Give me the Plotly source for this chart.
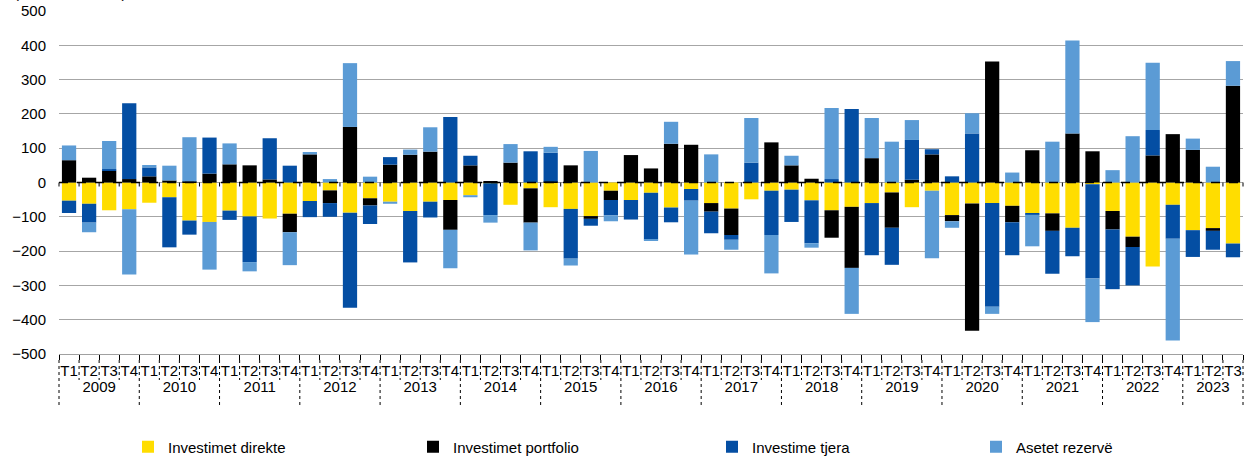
import plotly.graph_objects as go

# ---- data ----
years = [str(y) for y in range(2009, 2024)]
quarters = ["T1", "T2", "T3", "T4"]
quarters_last_year = ["T1", "T2", "T3"]

investimet_direkte = [-53, -62, -81, -78, -59, -43, -111, -115, -82, -99, -105, -91,
                      -54, -23, -88, -46, -56, -83, -56, -51, -37, -2, -65, -17,
                      -72, -77, -98, -24, -51, -30, -73, -19, -60, -76, -49, -24,
                      -21, -52, -81, -71, -60, -29, -72, -24, -95, -61, -60, -68,
                      -89, -90, -132, -5, -83, -158, -245, -65, -139, -133, -178]
investimet_portfolio = [65, 14, 34, 10, 18, 6, 3, 26, 53, 50, 9, -54,
                        82, -37, 162, -21, 52, 81, 90, -87, 50, 3, 58, -100,
                        3, 50, -8, -27, 80, 41, 113, 110, -25, -77, 0, 117,
                        50, 11, -80, -178, 71, -103, 8, 82, -18, -371, 353, -48,
                        94, -51, 143, 91, -54, -30, 79, 141, 95, -8, 282]
investime_tjera = [-36, -55, 5, 221, 26, -146, -41, 105, -27, -133, 120, 49,
                   -47, -40, -277, -54, 22, -150, -46, 191, 28, -93, 0, 91,
                   84, -145, -20, -45, -57, -136, -43, -34, -63, -14, 58, -129,
                   -94, -125, 10, 214, -152, -108, 116, 15, 18, 143, -302, -96,
                   -5, -125, -83, -275, -174, -112, 74, -99, -78, -55, -40]
asetet_rezerve = [43, -28, 82, -190, 7, 43, 129, -139, 61, -27, 0, -96,
                  7, 10, 186, 17, -6, 15, 71, -112, -6, -22, 54, -81,
                  17, -20, 92, -17, 0, -3, 64, -157, 82, -29, 130, -112,
                  28, -13, 207, -134, 117, 119, 58, -197, -19, 59, -21, 29,
                  -92, 119, 271, -127, 36, 135, 196, -297, 33, 46, 72]

series_names = ["Investimet direkte", "Investimet portfolio", "Investime tjera", "Asetet rezervë"]
series_values = [investimet_direkte, investimet_portfolio, investime_tjera, asetet_rezerve]
series_colors = ["#FFDD00", "#000000", "#044EA3", "#5B9BD5"]

# ---- categories ----
year_lvl, q_lvl = [], []
for y in years:
    qs = quarters_last_year if y == years[-1] else quarters
    for q in qs:
        year_lvl.append(y)
        q_lvl.append(q)
N = len(q_lvl)

FONT = "Liberation Sans, Arial, sans-serif"

plot_l, plot_r, W = 59, 13, 1256
plot_t, plot_b, H = 11, 103, 457
plot_w = W - plot_l - plot_r
plot_h = H - plot_t - plot_b

fig = go.Figure()
for i, (name, vals, col) in enumerate(zip(series_names, series_values, series_colors)):
    fig.add_trace(go.Bar(
        x=[year_lvl, q_lvl], y=vals, name=name,
        marker=dict(color=col, line=dict(width=0)),
        legend="legend" if i == 0 else f"legend{i+1}",
    ))

shapes = []
# dashed zero line
shapes.append(dict(type="line", xref="paper", yref="y", x0=0, x1=1, y0=0, y1=0,
                   line=dict(color="black", width=1.3, dash="dash")))
# tick marks at zero level and dotted separators under the axis
for i in range(N + 1):
    xp = i / N
    shapes.append(dict(type="line", xref="paper", yref="paper", x0=xp, x1=xp,
                       y0=0.5, y1=0.5 - 4 / plot_h, line=dict(color="black", width=1)))
    is_year = (i == 0 or i == N or q_lvl[i] == "T1")
    y_end = -(405 - 354) / plot_h if is_year else -(380 - 354) / plot_h
    shapes.append(dict(type="line", xref="paper", yref="paper", x0=xp, x1=xp,
                       y0=-6 / plot_h, y1=y_end,
                       line=dict(color="black", width=1, dash="dot")))

legend_x_px = [128, 413, 712, 976]
legends = {}
for i, lx in enumerate(legend_x_px):
    key = "legend" if i == 0 else f"legend{i+1}"
    legends[key] = dict(x=(lx - plot_l) / plot_w, xanchor="left",
                        y=-(447 - 354) / plot_h, yanchor="middle",
                        orientation="h", bgcolor="rgba(0,0,0,0)",
                        font=dict(family=FONT, size=15, color="black"))

fig.update_layout(
    width=W, height=H,
    margin=dict(l=plot_l, r=plot_r, t=plot_t, b=plot_b, autoexpand=False),
    barmode="relative", bargap=0.29,
    plot_bgcolor="white", paper_bgcolor="white",
    font=dict(family=FONT, size=15, color="black"),
    showlegend=True,
    shapes=shapes,
    **legends,
)
fig.update_xaxes(
    type="multicategory", showdividers=False, ticks="outside", ticklen=5,
    tickcolor="black", showline=True, linecolor="#a0a0a0", linewidth=1,
    showgrid=False, tickangle=0, automargin=False, ticklabelstandoff=3,
    tickfont=dict(family=FONT, size=15, color="black"),
)
fig.update_yaxes(
    range=[-500, 500], dtick=100, tick0=0, showgrid=True, gridcolor="#a6a6a6",
    gridwidth=1, zeroline=False, ticks="", ticklabelstandoff=12, automargin=False,
    tickfont=dict(family=FONT, size=15, color="black"),
)
fig.add_annotation(text="(në milionë euro)", xref="paper", yref="paper",
                   x=(12 - plot_l) / plot_w, y=1, xanchor="left", yanchor="bottom",
                   yshift=8, showarrow=False,
                   font=dict(family=FONT, size=15, color="black"))

fig.write_html("out.html", config={"displayModeBar": False},
               post_script="document.body.style.margin='0';document.body.style.overflow='hidden';")
